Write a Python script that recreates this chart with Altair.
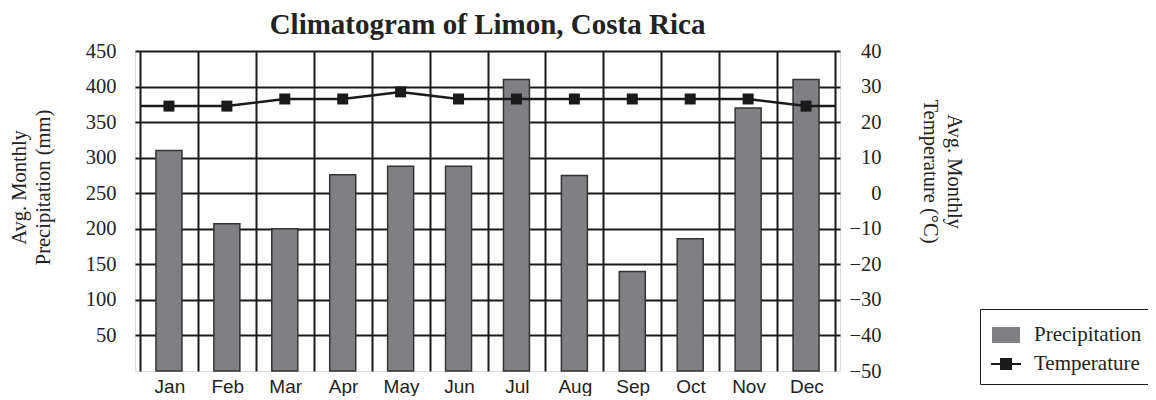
import json
import altair as alt
import pandas as pd

# ---- data ----
months = ["Jan", "Feb", "Mar", "Apr", "May", "Jun",
          "Jul", "Aug", "Sep", "Oct", "Nov", "Dec"]
precip = [310, 207, 200, 276, 288, 288, 410, 275, 140, 186, 370, 410]
temp = [24.5, 24.5, 26.5, 26.5, 28.5, 26.5, 26.5, 26.5, 26.5, 26.5, 26.5, 24.5]
precip_ticks = [50, 100, 150, 200, 250, 300, 350, 400, 450]
temp_ticks = [-50, -40, -30, -20, -10, 0, 10, 20, 30, 40]
series = ["Precipitation", "Temperature"]

n = len(months)
month_bounds = list(range(n + 1))

bar_df = pd.DataFrame({"month": months, "precip": precip})
bar_df["pos"] = bar_df.index + 0.5
bar_df["series"] = series[0]

pt_df = pd.DataFrame({"month": months, "temp": temp})
pt_df["pos"] = pt_df.index + 0.5
pt_df["series"] = series[1]

# temperature line runs on to the plot edges at the first / last value
line_df = pd.DataFrame({
    "pos": [0] + list(pt_df["pos"]) + [n],
    "temp": [temp[0]] + temp + [temp[-1]],
})
line_df["series"] = series[1]

W, H = 705, 320
SERIF = "Liberation Serif"
SANS = "Liberation Sans"
INK = "#1a1a1a"

month_expr = "datum.value < %d ? %s[datum.value] : ''" % (n, json.dumps(months))

x_scale = alt.Scale(domain=[0, n], nice=False, zero=False)
x_axis = alt.Axis(
    values=month_bounds, grid=True, ticks=False, domain=False,
    labelExpr=month_expr, labelOffset=W / (2 * n), labelFlush=False,
    labelOverlap=False, labelBound=False,
    labelFont=SANS, labelFontSize=19, labelColor="#222", labelPadding=6,
    gridColor=INK, gridWidth=2, title=None,
)
x_enc = alt.X("pos:Q", scale=x_scale, axis=x_axis)

color_scale = alt.Scale(domain=series, range=["#808084", INK])
sym_expr = ("datum.value == 'Temperature' ? "
            "'M-1,0H1M-0.333,-0.333H0.333V0.333H-0.333Z' : "
            "'M-0.867,-0.467H0.867V0.467H-0.867Z'")
legend = alt.Legend(
    orient="none", legendX=845, legendY=258, title=None,
    strokeColor=INK, fillColor="white", padding=10, rowPadding=1,
    labelFont=SERIF, labelFontSize=21, labelColor="#222", labelOffset=12,
    symbolSize=900, symbolType=alt.ExprRef(expr=sym_expr),
    symbolStrokeColor=INK, symbolStrokeWidth=2,
)
color_enc = alt.Color("series:N", scale=color_scale, legend=legend)

bars = alt.Chart(bar_df).mark_bar(width=26, stroke="#333", strokeWidth=1.5).encode(
    x=x_enc,
    y=alt.Y("precip:Q",
            scale=alt.Scale(domain=[0, 450], nice=False),
            axis=alt.Axis(values=precip_ticks, grid=True, ticks=False, tickSize=0,
                          domain=False, gridColor=INK, gridWidth=2,
                          labelFont=SERIF, labelFontSize=20.5, labelColor="#222",
                          labelPadding=19,
                          title=["Avg. Monthly", "Precipitation (mm)"],
                          titleFont=SERIF, titleFontSize=20.5, titleFontWeight="normal",
                          titleColor="#222", titleAngle=270, titleX=-116, titleY=136,
                          titleAlign="center", titleBaseline="middle",
                          titleLineHeight=24)),
    color=color_enc,
)

y_temp = alt.Y("temp:Q",
               scale=alt.Scale(domain=[-50, 40], nice=False, zero=False),
               axis=alt.Axis(orient="right", values=temp_ticks, grid=False,
                             ticks=False, tickSize=0, domain=False,
                             labelFont=SERIF, labelFontSize=20.5, labelColor="#222",
                             labelAlign="right", labelPadding=41,
                             title=["Avg. Monthly", "Temperature (\u00b0C)"],
                             titleFont=SERIF, titleFontSize=20.5,
                             titleFontWeight="normal", titleColor="#222",
                             titleAngle=90, titleX=113, titleY=120,
                             titleAlign="center", titleBaseline="middle",
                             titleLineHeight=24))

line = alt.Chart(line_df).mark_line(strokeWidth=2.5).encode(
    x=x_enc, y=y_temp, color=color_enc,
)
points = alt.Chart(pt_df).mark_point(shape="square", filled=True, size=121, opacity=1).encode(
    x=x_enc, y=y_temp, color=color_enc,
)

chart = alt.layer(bars, alt.layer(line, points)).resolve_scale(
    y="independent"
).properties(
    width=W, height=H,
    title=alt.TitleParams("Climatogram of Limon, Costa Rica", font=SERIF, fontSize=29,
                          fontWeight="bold", color="#222", anchor="middle",
                          frame="group", offset=1),
    autosize=alt.AutoSizeParams(type="none"),
    padding={"left": 127, "top": 43, "right": 308, "bottom": 25},
).configure_view(stroke=INK, strokeWidth=2).configure(background="white")

chart.save("out.html", embed_options={"renderer": "svg", "actions": False})
